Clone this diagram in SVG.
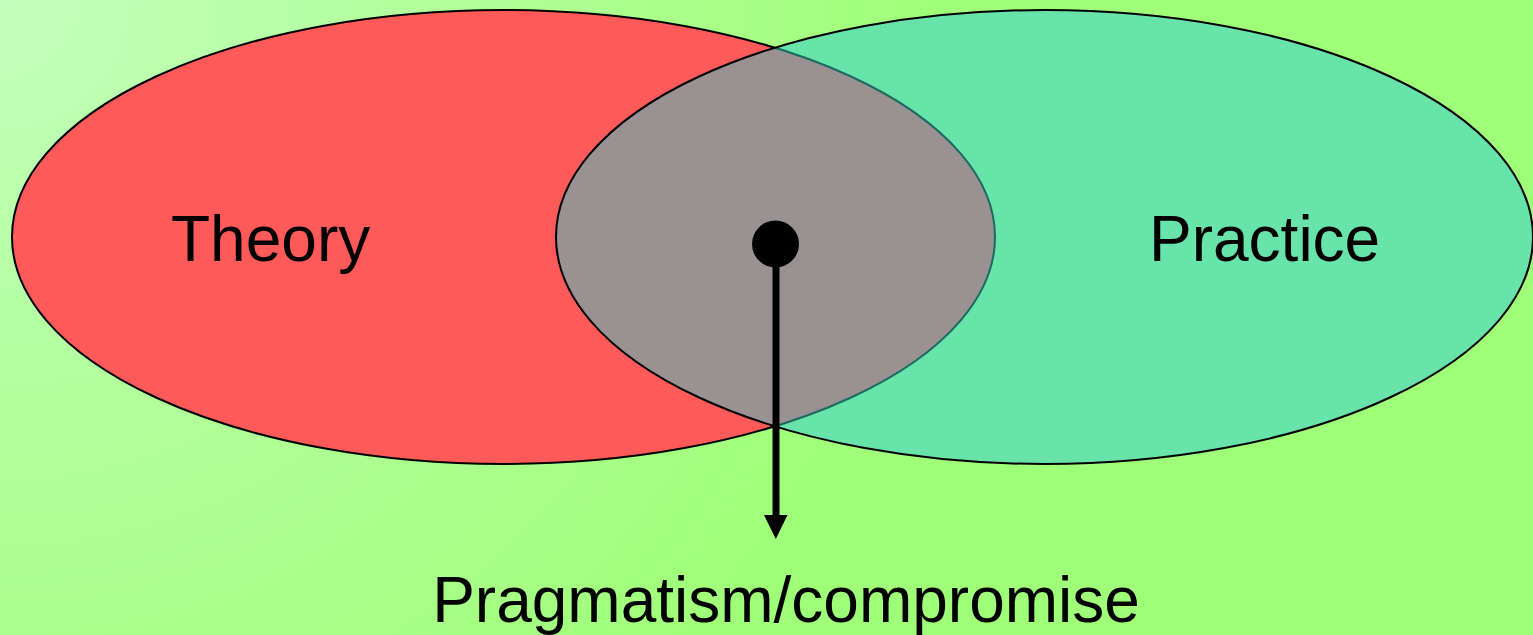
<svg xmlns="http://www.w3.org/2000/svg" width="1533" height="635" viewBox="0 0 1533 635">
  <style>
    .lbl { font-family: "Liberation Sans", Arial, sans-serif; font-size: 64px; fill: #000; }
    .edge { fill: none; stroke: #000; stroke-width: 2; }
  </style>
  <defs>
    <radialGradient id="bg" cx="0" cy="0" r="950" gradientUnits="userSpaceOnUse">
      <stop offset="0" stop-color="#c2ffbc"/>
      <stop offset="0.5" stop-color="#b0ff98"/>
      <stop offset="1" stop-color="#a0ff78"/>
    </radialGradient>
    <clipPath id="rightClip">
      <ellipse cx="1044.5" cy="237" rx="488.5" ry="227"/>
    </clipPath>
  </defs>
  <rect x="0" y="0" width="1533" height="635" fill="url(#bg)"/>

  <g id="theory">
    <ellipse cx="503.5" cy="237" rx="491.5" ry="227" fill="#ff5a5a" stroke="#000" stroke-width="2"/>
    <text class="lbl" x="171" y="261">Theory</text>
  </g>

  <g id="practice">
    <ellipse cx="1044.5" cy="237" rx="488.5" ry="227" fill="#68e3a9"/>
    <text class="lbl" x="1149" y="261">Practice</text>
  </g>

  <g id="overlap">
    <ellipse cx="503.5" cy="237" rx="491.5" ry="227" fill="#9a9292" clip-path="url(#rightClip)"/>
    <ellipse cx="503.5" cy="237" rx="491.5" ry="227" fill="none" stroke="#1d6a62" stroke-width="2" clip-path="url(#rightClip)"/>
    <ellipse cx="1044.5" cy="237" rx="488.5" ry="227" class="edge"/>
  </g>

  <g id="connectors">
    <circle cx="775.5" cy="244" r="23.5" fill="#000"/>
    <line x1="776" y1="244" x2="776" y2="516" stroke="#000" stroke-width="7"/>
    <path d="M764,515 L787.5,515 L775.8,539 Z" fill="#000"/>
  </g>

  <g id="pragmatism">
    <text class="lbl" x="786" y="622" text-anchor="middle">Pragmatism/compromise</text>
  </g>
</svg>
